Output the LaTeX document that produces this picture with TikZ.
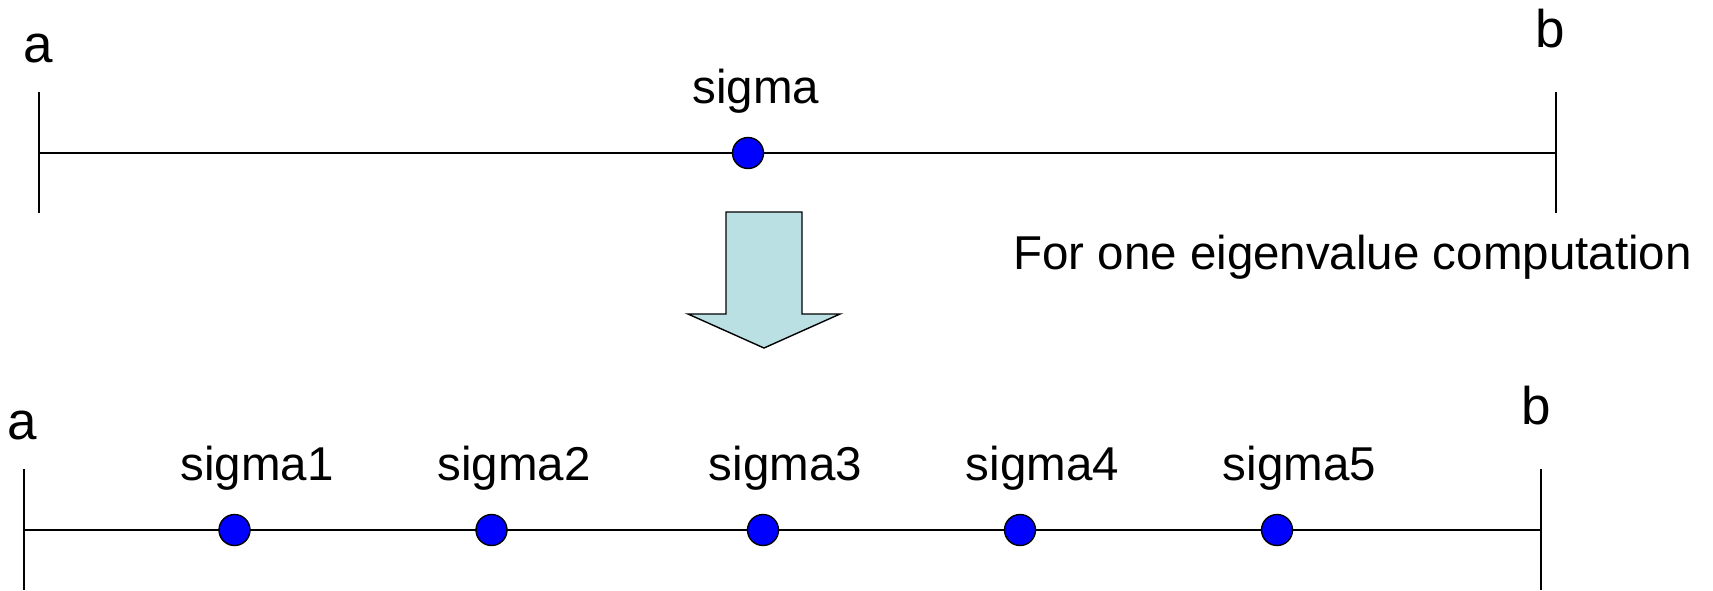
\documentclass[tikz,border=0pt]{standalone}
\usepackage{fontspec}
\setmainfont{Liberation Sans}
\definecolor{arrowfill}{HTML}{BBE0E3}
\definecolor{dotblue}{HTML}{0000FF}
\tikzset{
  lbl/.style={inner sep=0pt, anchor=base, font=\fontsize{47.5}{57}\selectfont},
  endlbl/.style={inner sep=0pt, anchor=base, font=\fontsize{53}{63}\selectfont},
  axis/.style={line width=1.6pt, black},
  dotnode/.style={circle, draw=black, line width=1.4pt, fill=dotblue, minimum size=31pt, inner sep=0pt},
  bigarrow/.style={draw=black, line width=1.4pt, fill=arrowfill, line join=miter}
}
\begin{document}
\begin{tikzpicture}[x=1pt, y={(0pt,-1pt)}]
\useasboundingbox (0,0) rectangle (1713,590);
% top axis
\coordinate (tl) at (39,153);
\coordinate (tr) at (1556,153);
\coordinate (tlu) at (39,92);
\coordinate (tld) at (39,213);
\coordinate (tru) at (1556,92);
\coordinate (trd) at (1556,213);
\draw[axis] (tl) -- (tr);
\draw[axis] (tlu) -- (tld);
\draw[axis] (tru) -- (trd);
\node[endlbl] (ta) at (38.5,62) {a};
\node[endlbl] (tb) at (1550,47) {b};
\node[dotnode] (s0) at (748,153) {};
\node[lbl] (s0l) at (756,103) {sigma};
% big arrow
\draw[bigarrow] (726,212) -- (802,212) -- (802,314) -- (840,314) -- (764,348) -- (688,314) -- (726,314) -- cycle;
\node[lbl, anchor=base west] (note) at (1013,269) {For one eigenvalue computation};
% bottom axis
\coordinate (bl) at (24,530);
\coordinate (br) at (1541,530);
\coordinate (blu) at (24,469);
\coordinate (bld) at (24,590);
\coordinate (bru) at (1541,469);
\coordinate (brd) at (1541,590);
\draw[axis] (bl) -- (br);
\draw[axis] (blu) -- (bld);
\draw[axis] (bru) -- (brd);
\node[endlbl] (ba) at (22.5,439) {a};
\node[endlbl] (bb) at (1536,424) {b};
\foreach \i/\x in {1/234.5,2/491.5,3/763,4/1020,5/1277}{
  \node[dotnode] (s\i) at (\x,530) {};
  \node[lbl] (s\i l) at (\x+22.5,480) {sigma\i};
}
\end{tikzpicture}
\end{document}
